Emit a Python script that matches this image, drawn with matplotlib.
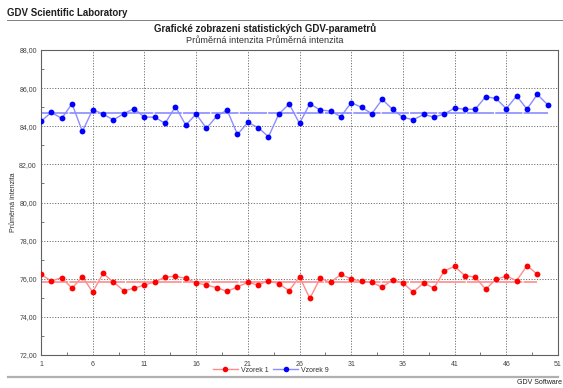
import numpy as np
import matplotlib
matplotlib.use("Agg")
import matplotlib.pyplot as plt
from matplotlib.lines import Line2D

plt.rcParams['font.family'] = ['Liberation Sans', 'DejaVu Sans']

# Measurement data: average intensity per measurement index
vzorek1 = [76.23, 75.88, 76.06, 75.50, 76.11, 75.30, 76.28, 75.83, 75.37, 75.50,
           75.67, 75.83, 76.09, 76.13, 76.02, 75.78, 75.67, 75.53, 75.34, 75.57,
           75.81, 75.67, 75.90, 75.74, 75.37, 76.11, 74.97, 76.02, 75.81, 76.23,
           75.99, 75.86, 75.81, 75.55, 75.95, 75.78, 75.30, 75.78, 75.51, 76.41,
           76.65, 76.16, 76.09, 75.44, 75.97, 76.14, 75.90, 76.69, 76.23]
vzorek9 = [84.26, 84.73, 84.41, 85.18, 83.73, 84.87, 84.64, 84.33, 84.66, 84.92,
           84.48, 84.48, 84.15, 85.03, 84.06, 84.64, 83.89, 84.53, 84.85, 83.57,
           84.20, 83.93, 83.45, 84.64, 85.17, 84.15, 85.18, 84.85, 84.80, 84.50,
           85.24, 84.99, 84.66, 85.41, 84.89, 84.47, 84.34, 84.62, 84.48, 84.64,
           84.96, 84.89, 84.89, 85.55, 85.46, 84.92, 85.59, 84.90, 85.67, 85.13]

series_names = ["Vzorek 1", "Vzorek 9"]
x_ticks = [1, 6, 11, 16, 21, 26, 31, 36, 41, 46, 51]
y_ticks = [72, 74, 76, 78, 80, 82, 84, 86, 88]
y_tick_labels = ["72,00", "74,00", "76,00", "78,00", "80,00",
                 "82,00", "84,00", "86,00", "88,00"]

header = "GDV Scientific Laboratory"
title = "Grafické zobrazeni statistických GDV-parametrů"
subtitle = "Průměrná intenzita Průměrná intenzita"
y_label = "Průměrná intenzita"
footer = "GDV Software"

W, H = 563, 388
fig = plt.figure(figsize=(W / 100, H / 100), dpi=100)
fig.patch.set_facecolor("white")

ax = fig.add_axes([41 / W, 1 - 355 / H, 517 / W, 305 / H])

styles = [
    dict(line="#ff8c8c", marker="#ff0000", mean="#ff9c9c"),
    dict(line="#8c8cff", marker="#0000ff", mean="#9c9cff"),
]

for data, st in zip([vzorek1, vzorek9], styles):
    xs = np.arange(1, len(data) + 1)
    m = np.mean(data)
    ax.plot([xs[0], xs[-1]], [m, m], color=st["mean"], lw=1.4,
            dashes=(14, 0.6), zorder=2, solid_capstyle="butt")
    ax.plot(xs, data, color=st["line"], lw=1.0, zorder=3)
    ax.plot(xs, data, ls="none", marker="o", ms=4.2, mfc=st["marker"],
            mec=st["marker"], mew=0, zorder=4)

ax.set_xlim(1, 51)
ax.set_ylim(72, 88)
ax.set_xticks(x_ticks)
ax.set_xticklabels([str(t) for t in x_ticks])
ax.set_yticks(y_ticks)
ax.set_yticklabels(y_tick_labels)
ax.set_xticks([t + 2.5 for t in x_ticks[:-1]], minor=True)
ax.set_yticks([t + 1 for t in y_ticks[:-1]], minor=True)

ax.grid(True, which="major", color="#707070", ls=(0, (1.2, 1.6)), lw=0.7)
ax.tick_params(which="both", direction="in", labelsize=5, colors="#606060",
               labelcolor="#404040", length=2.5, width=0.6)
ax.tick_params(which="major", length=0)
ax.tick_params(axis="x", pad=4)
ax.tick_params(axis="y", pad=3)
for sp in ax.spines.values():
    sp.set_color("#606060")
    sp.set_linewidth(0.8)

ax.set_ylabel(y_label, fontsize=5, color="#303030")
ax.yaxis.set_label_coords(-24 / 517, 0.5)

# Header, titles and footer
fig.text(7 / W, 1 - 13 / H, header, fontsize=7, fontweight="bold",
         ha="left", va="center", color="#202020")
fig.add_artist(Line2D([7 / W, 1.0], [1 - 19.8 / H, 1 - 19.8 / H],
                      color="#808080", lw=0.7))
fig.text(265 / W, 1 - 29 / H, title, fontsize=7, fontweight="bold",
         ha="center", va="center", color="#202020")
fig.text(265 / W, 1 - 40.5 / H, subtitle, fontsize=6.55,
         ha="center", va="center", color="#303030")

# Legend below the plot
handles = [Line2D([], [], color=st["line"], lw=1.0, marker="o", ms=4,
                  mfc=st["marker"], mec=st["marker"], mew=0)
           for st in styles]
fig.legend(handles, series_names, loc="center", ncol=2,
           bbox_to_anchor=(271 / W, 1 - 370 / H), frameon=False,
           fontsize=5, handlelength=3.6, columnspacing=0.6,
           handletextpad=0.5, labelcolor="#303030")

fig.add_artist(Line2D([8 / W, 558 / W], [1 - 376.8 / H, 1 - 376.8 / H],
                      color="#b0b0b0", lw=1.6))
fig.text(562 / W, 1 - 382 / H, footer, fontsize=5, ha="right",
         va="center", color="#202020")

fig.savefig("out.png", dpi=100, facecolor="white")
